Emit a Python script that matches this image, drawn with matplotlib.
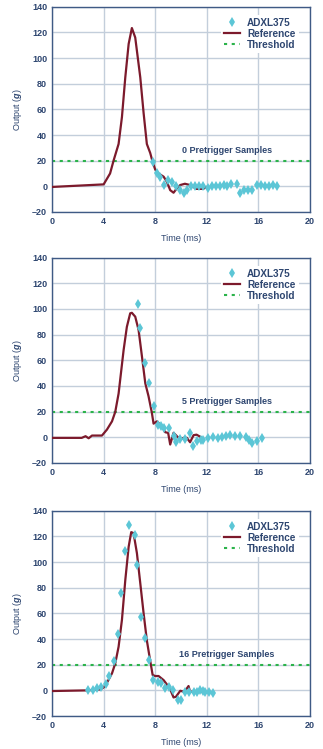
import matplotlib
matplotlib.use("Agg")
import matplotlib.pyplot as plt

plt.rcParams['font.family'] = ['Liberation Sans', 'DejaVu Sans']
plt.rcParams['font.weight'] = 'bold'
plt.rcParams['mathtext.fontset'] = 'custom'
plt.rcParams['mathtext.it'] = 'Liberation Sans:italic:bold'
plt.rcParams['mathtext.rm'] = 'Liberation Sans:bold'

# --- data ---
# panel 1: 0 pretrigger samples
ref1_t = [0, 2.0, 4.0, 4.5, 4.77, 5.16, 5.42, 5.68, 5.94, 6.19, 6.45, 6.84, 7.1, 7.35,
          7.61, 7.8, 8.0, 8.26, 8.65, 8.9, 9.16, 9.42, 9.68, 9.94, 10.3, 10.7, 11.2, 11.7, 12.1]
ref1_v = [-0.5, 0.5, 1.5, 10, 20, 33, 54, 85, 111, 123.4, 116, 85, 57, 33,
          26, 19, 13, 10, 7.5, 3.6, -3, -5, -1.5, 1, 2, 1, -2, -2, 0]
adx1_t = [7.8, 8.1, 8.4, 8.7, 9.0, 9.3, 9.6, 9.9, 10.2, 10.5, 10.8, 11.1, 11.4, 11.7,
          12.1, 12.4, 12.7, 13.0, 13.3, 13.6, 13.9, 14.3, 14.6, 14.9, 15.2, 15.5,
          15.9, 16.2, 16.5, 16.8, 17.1, 17.4]
adx1_v = [19, 10, 7, 1, 5, 3, 0, -3, -5, -3, 0, 0, 0, 0,
          -1.5, 0, 0, 0, 1, 0, 2, 1.5, -5, -3, -3, -3,
          1, 1, 0.5, 0, 1, 0]

# panel 2: 5 pretrigger samples
ref2_t = [0, 2.3, 2.6, 2.84, 3.1, 3.87, 4.26, 4.65, 4.9, 5.16, 5.55, 5.8, 6.06, 6.19,
          6.45, 6.71, 6.97, 7.23, 7.48, 7.74, 7.87, 8.13, 8.52, 8.77, 9.0, 9.16, 9.42,
          9.68, 9.94, 10.2, 10.45, 10.7, 10.97, 11.2, 11.5, 11.65]
ref2_v = [-0.5, -0.5, 0.8, -0.8, 1.3, 1.3, 6, 12.4, 19.7, 34, 68, 86, 96.6, 97,
          94, 83.6, 63, 42, 32, 19, 10.6, 12.4, 8.5, 3.9, 3.4, -5.7, 3.4,
          0.8, -1.8, -0.5, -0.5, -3.9, 1.6, 2, 0.3, -1.3]
adx2_t = [6.63, 6.79, 7.23, 7.48, 7.87, 8.18, 8.44, 8.7, 9.08, 9.42, 9.63, 9.94, 10.27,
          10.66, 10.9, 11.2, 11.56, 11.74, 12.1, 12.5, 12.9, 13.2, 13.5, 13.8, 14.2,
          14.6, 15.0, 15.3, 15.5, 15.9, 16.3]
adx2_v = [104, 85.4, 57.7, 42, 24.6, 9.8, 9, 7.2, 7.2, 0.8, -3.9, -1.3, -1.3,
          3.4, -7, -3, -1.8, -1.8, -0.5, 0.3, -0.5, 0.3, 1.3, 2, 0.8,
          0.8, 0.3, -1.8, -4.4, -3, -0.5]

# panel 3: 16 pretrigger samples
ref3_t = [0, 2.7, 3.74, 4.0, 4.26, 4.65, 4.9, 5.16, 5.42, 5.68, 5.94, 6.14, 6.32, 6.58,
          6.84, 7.1, 7.35, 7.6, 7.8, 8.0, 8.26, 8.65, 8.9, 9.16, 9.42, 9.6, 9.94, 10.2,
          10.4, 10.58, 10.7, 11.2, 11.7, 12.2]
ref3_v = [-0.5, 0, 0.8, 2.3, 6, 13.3, 21, 34, 55, 86, 112, 123.4, 122.6, 107,
          83.6, 60, 39, 23.7, 12, 11.2, 11.2, 8, 4.7, 0.8, -5.5, -5, -0.3, -1,
          0.8, 3.4, -1, -1, -1.3, -1.5]
adx3_t = [2.79, 3.17, 3.48, 3.82, 4.2, 4.39, 4.77, 5.1, 5.37, 5.68, 5.99, 6.4, 6.58,
          6.9, 7.23, 7.54, 7.82, 8.18, 8.44, 8.72, 9.03, 9.34, 9.75, 10.0, 10.3, 10.63,
          10.97, 11.2, 11.5, 11.7, 11.87, 12.2, 12.5]
adx3_v = [0.3, 0.3, 1.6, 2.3, 5, 11.2, 23, 44, 76, 109, 129, 121, 98,
          57.5, 40.6, 23.7, 7.8, 6.2, 5.5, 1.6, 2.3, 0.3, -7.5, -7.5, -1.6, -1,
          -1.6, -1, 0, -0.3, -1, -1.6, -2.3]

threshold = 20
labels = ["0 Pretrigger Samples", "5 Pretrigger Samples", "16 Pretrigger Samples"]
xticks = [0, 4, 8, 12, 16, 20]
yticks = [-20, 0, 20, 40, 60, 80, 100, 120, 140]

panels = [(ref1_t, ref1_v, adx1_t, adx1_v),
          (ref2_t, ref2_v, adx2_t, adx2_v),
          (ref3_t, ref3_v, adx3_t, adx3_v)]

navy = '#2e4670'
spine = '#3f5a85'
grid = '#c3cedb'
red = '#7c1a2c'
cyan = '#5cc6d6'
green = '#2bb34a'

fig = plt.figure(figsize=(3.23, 7.49), dpi=100)
bottoms = [0.717, 0.382, 0.044]

for i, (rt, rv, at, av) in enumerate(panels):
    ax = fig.add_axes([0.161, bottoms[i], 0.799, 0.274])
    ax.set_xlim(0, 20)
    ax.set_ylim(-20, 140)
    ax.set_xticks(xticks)
    ax.set_yticks(yticks)
    ax.set_yticklabels([str(v).replace('-', '\u2013') for v in yticks])
    ax.grid(True, color=grid, linewidth=1.0)
    ax.set_axisbelow(True)
    ax.tick_params(length=0, labelsize=6.5, colors=navy, pad=3.5)
    for s in ax.spines.values():
        s.set_color(spine)
        s.set_linewidth(1.0)

    ax.axhline(threshold, color=green, linestyle=(0, (1.5, 2.2)), linewidth=1.5,
               label='Threshold', zorder=2)
    ax.plot(rt, rv, color=red, linewidth=1.6, label='Reference', zorder=3)
    ax.plot(at, av, linestyle='none', marker='d', markersize=5.5, color=cyan,
            markeredgewidth=0, label='ADXL375', zorder=4)

    ax.text(13.55, 28, labels[i], ha='center', va='center', fontsize=6.5,
            color=navy, fontweight='bold')
    ax.set_xlabel('Time (ms)', fontsize=6.5, color=navy, labelpad=6)
    ax.set_ylabel('Output ($g$)', fontsize=6.5, color=navy, labelpad=6)

    h, l = ax.get_legend_handles_labels()
    leg = ax.legend(h[::-1], l[::-1], loc='upper right', fontsize=7.2,
                    frameon=True, facecolor='white', edgecolor='none', framealpha=1,
                    handlelength=1.6, handletextpad=0.7, borderpad=0.3,
                    labelspacing=0.1, fancybox=False, bbox_to_anchor=(0.975, 0.985))
    for t in leg.get_texts():
        t.set_color(navy)

fig.savefig('out.png', dpi=100, facecolor='white')
